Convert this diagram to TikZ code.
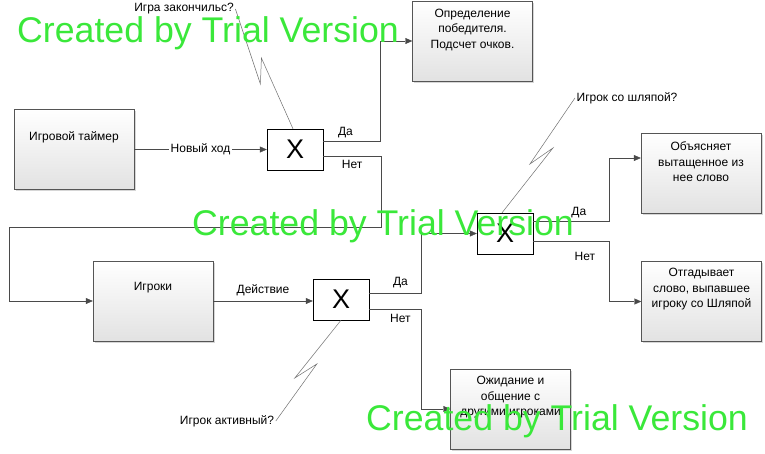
\documentclass[tikz,border=0pt]{standalone}
\usepackage{fontspec}
\setmainfont{Liberation Sans}
\usetikzlibrary{arrows.meta,shadows}
\definecolor{edge}{HTML}{4A4A4A}
\definecolor{boxline}{HTML}{555555}
\definecolor{boxfoot}{HTML}{E2E2E2}
\definecolor{callout}{HTML}{707070}
\definecolor{trial}{HTML}{3AE83A}
\tikzset{
  block/.style={
    draw=boxline, top color=white, bottom color=boxfoot,
    minimum width=120pt, minimum height=80pt,
    general shadow={fill=black!16, shadow xshift=1.5pt, shadow yshift=-1.5pt}
  },
  blocktext/.style={align=center, font=\fontsize{12}{15.5}\selectfont, inner sep=0pt},
  gate/.style={
    draw=black, fill=white, minimum width=56pt, minimum height=41pt,
    inner sep=0pt, font=\fontsize{27}{30}\selectfont
  },
  flow/.style={draw=edge, -{Triangle[length=7pt,width=6pt]}},
  note/.style={draw=callout, line width=0.5pt},
  tag/.style={font=\fontsize{12}{14}\selectfont, inner sep=1.5pt},
  watermark/.style={text=trial, font=\fontsize{35.7}{40}\selectfont, anchor=base west, inner sep=0pt}
}

\begin{document}
\begin{tikzpicture}[x=1pt, y=-1pt]
  \useasboundingbox[fill=white] (0,0) rectangle (765,453);
  \node[block] (timer) at (74,149.5) {};
  \node[blocktext] (timertext) at ([yshift=12pt]timer.center) {Игровой таймер};
  \node[block] (finish) at (472.5,41) {};
  \node[blocktext] (finishtext) at ([yshift=11pt]finish.center) {Определение\\победителя.\\Подсчет очков.};
  \node[block] (players) at (153,301) {};
  \node[blocktext] (playerstext) at ([yshift=13pt]players.center) {Игроки};
  \node[block] (explain) at (701,173) {};
  \node[blocktext] (explaintext) at ([yshift=11pt]explain.center) {Объясняет\\вытащенное из\\нее слово};
  \node[block] (guess) at (701.5,301.5) {};
  \node[blocktext] (guesstext) at ([yshift=12pt]guess.center) {Отгадывает\\слово, выпавшее\\игроку со Шляпой};
  \node[block] (wait) at (510.5,409) {};
  \node[blocktext] (waittext) at ([yshift=11.5pt]wait.center) {Ожидание и\\общение с\\другими игроками};
  \node[gate] (gate1) at (295,149.5) {X};
  \node[gate] (gate2) at (341,299.5) {X};
  \node[gate] (gate3) at (505,233.5) {X};
  \coordinate (loopbend) at (9,227);

  \draw[flow] (timer.east) -- node[tag, fill=white] (newturn) {Новый ход} (gate1.west);
  \draw[flow] ([yshift=8.5pt]gate1.east) -- node[tag, above=1pt, pos=0.39] (yes1) {Да} ++(57,0) |- (finish.west);
  \draw[flow] ([yshift=-6.5pt]gate1.east) -- node[tag, below=3pt, pos=0.5] (no1) {Нет} ++(58,0) |- (loopbend) |- (players.west);
  \draw[flow] (players.east) -- node[tag, above=3pt] (act) {Действие} (gate2.west |- players.east);
  \draw[flow] ([yshift=6.5pt]gate2.east) -- node[tag, above=3pt, pos=0.6] (yes2) {Да} ++(52,0) |- (gate3.west);
  \draw[flow] ([yshift=-9.5pt]gate2.east) -- node[tag, below=4pt, pos=0.6] (no2) {Нет} ++(52,0) |- (wait.west);
  \draw[flow] ([yshift=12.5pt]gate3.east) -- node[tag, above=1.5pt, pos=0.6] (yes3) {Да} ++(76,0) |- ([yshift=15pt]explain.west);
  \draw[flow] ([yshift=-7.5pt]gate3.east) -- node[tag, below=10pt, pos=0.68] (no3) {Нет} ++(76,0) |- (guess.west);

  \node[tag] (askend) at (184,9) {Игра закончильс?};
  \draw[note] (askend.east) -- ++(25,75) -- ++(1,-26) -- ([xshift=-2pt]gate1.north);
  \node[tag] (askhat) at (627,98) {Игрок со шляпой?};
  \draw[note] (askhat.west) -- ++(-45,66) -- ++(23,-16) -- ([xshift=-3pt]gate3.north);
  \node[tag] (askactive) at (227,421) {Игрок активный?};
  \draw[note] (askactive.east) -- ++(41,-57) -- ++(-22,14) -- (gate2.south);

  \node[watermark] (mark1) at (17,42) {Created by Trial Version};
  \node[watermark] (mark2) at (192,235) {Created by Trial Version};
  \node[watermark] (mark3) at (366,430) {Created by Trial Version};
\end{tikzpicture}
\end{document}
